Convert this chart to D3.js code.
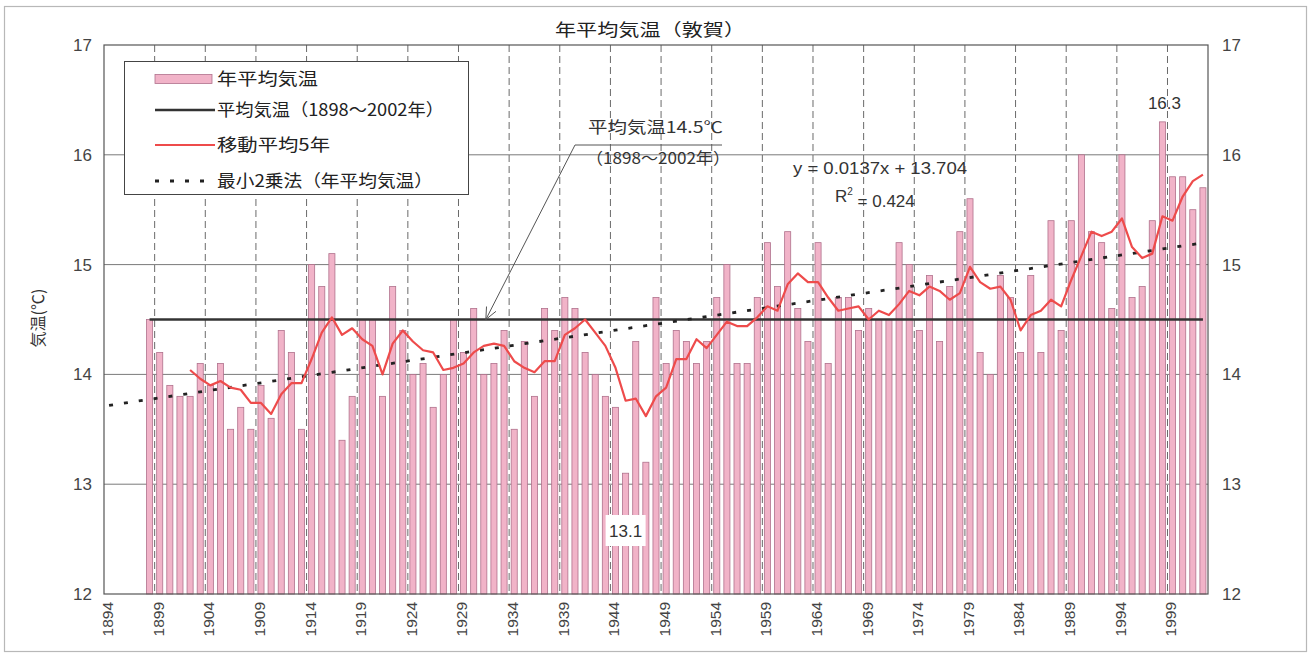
<!DOCTYPE html>
<html><head><meta charset="utf-8">
<script src="https://cdn.jsdelivr.net/npm/d3@7"></script>
<style>body{margin:0;background:#fff;} svg{display:block;}</style>
</head><body><svg id="c" width="1310" height="657"></svg>
<script>
// ---------- data ----------
const firstYear = 1898;
const temps = [
 14.5,14.2,13.9,13.8,13.8,14.1,13.9,14.1,13.5,13.7, // 1898-1907
 13.5,13.9,13.6,14.4,14.2,13.5,15.0,14.8,15.1,13.4, // 1908-1917
 13.8,14.5,14.5,13.8,14.8,14.4,14.0,14.1,13.7,14.0, // 1918-1927
 14.5,14.2,14.6,14.0,14.1,14.4,13.5,14.3,13.8,14.6, // 1928-1937
 14.4,14.7,14.6,14.2,14.0,13.8,13.7,13.1,14.3,13.2, // 1938-1947
 14.7,14.1,14.4,14.3,14.1,14.3,14.7,15.0,14.1,14.1, // 1948-1957
 14.7,15.2,14.8,15.3,14.6,14.3,15.2,14.1,14.7,14.7, // 1958-1967
 14.4,14.6,14.5,14.5,15.2,15.0,14.4,14.9,14.3,14.8, // 1968-1977
 15.3,15.6,14.2,14.0,14.9,14.7,14.2,14.9,14.2,15.4, // 1978-1987
 14.4,15.4,16.0,15.3,15.2,14.6,16.0,14.7,14.8,15.4, // 1988-1997
 16.3,15.8,15.8,15.5,15.7                           // 1998-2002
];
const years = temps.map((_, i) => firstYear + i);
const maFirstYear = 1902;
const movingAvg5 = [
 14.04,13.96,13.90,13.94,13.88,13.86,13.74,13.74,13.64,13.82, // 1902-1911
 13.92,13.92,14.14,14.38,14.52,14.36,14.42,14.32,14.26,14.00, // 1912-1921
 14.28,14.40,14.30,14.22,14.20,14.04,14.06,14.10,14.20,14.26, // 1922-1931
 14.28,14.26,14.12,14.06,14.02,14.12,14.12,14.36,14.42,14.50, // 1932-1941
 14.38,14.26,14.06,13.76,13.78,13.62,13.80,13.88,14.14,14.14, // 1942-1951
 14.32,14.24,14.36,14.48,14.44,14.44,14.52,14.62,14.58,14.82, // 1952-1961
 14.92,14.84,14.84,14.70,14.58,14.60,14.62,14.50,14.58,14.54, // 1962-1971
 14.64,14.76,14.72,14.80,14.76,14.68,14.74,14.98,14.84,14.78, // 1972-1981
 14.80,14.68,14.40,14.54,14.58,14.68,14.62,14.86,15.08,15.30, // 1982-1991
 15.26,15.30,15.42,15.16,15.06,15.10,15.44,15.40,15.62,15.76, // 1992-2001
 15.82                                                        // 2002
];
const maYears = movingAvg5.map((_, i) => maFirstYear + i);
const meanTemp = 14.5;
const meanYears = [1898, 2002];
const trendSlope = 0.0137, trendIntercept = 13.704, trendR2 = 0.424;
const trendYears = [1894, 2002];
const yTicks = [12, 13, 14, 15, 16, 17];
const xTickYears = [1894,1899,1904,1909,1914,1919,1924,1929,1934,1939,1944,1949,1954,1959,1964,1969,1974,1979,1984,1989,1994,1999];
const maxYear = 1998, maxVal = 16.3, minYear = 1945, minVal = 13.1;

// ---------- layout ----------
const FONT = "'Liberation Sans','Noto Sans CJK JP',sans-serif";
const JFONT = "'Noto Sans CJK JP','Liberation Sans',sans-serif";
const svg = d3.select('#c');
const P = {l: 104, r: 1208, t: 45, b: 594};
const x = d3.scaleLinear().domain([1894, 2003]).range([P.l, P.r]);
const cw = x(1895) - x(1894);
const cx = yr => x(yr) + cw / 2;
const y = d3.scaleLinear().domain([12, 17]).range([P.b, P.t]);

// outer frame
svg.append('rect').attr('x', 4.5).attr('y', 6.5).attr('width', 1302).attr('height', 645)
  .attr('fill', 'none').attr('stroke', '#b8b8b8').attr('stroke-width', 1.2);

// horizontal gridlines
svg.append('g').selectAll('line').data(yTicks.filter(d => d > 12 && d < 17)).join('line')
  .attr('x1', P.l).attr('x2', P.r).attr('y1', d => y(d)).attr('y2', d => y(d))
  .attr('stroke', '#7a7a7a').attr('stroke-width', 1);

// vertical dashed gridlines
svg.append('g').selectAll('line').data(xTickYears.filter(d => d > 1894)).join('line')
  .attr('x1', d => x(d)).attr('x2', d => x(d)).attr('y1', P.t).attr('y2', P.b)
  .attr('stroke', '#6a6a6a').attr('stroke-width', 1).attr('stroke-dasharray', '7,4');

// bars
const barW = cw * 0.6;
svg.append('g').selectAll('rect').data(temps).join('rect')
  .attr('x', (d, i) => cx(years[i]) - barW / 2)
  .attr('y', d => y(d))
  .attr('width', barW)
  .attr('height', d => y(12) - y(d))
  .attr('fill', '#f1b3c8').attr('stroke', '#b0718c').attr('stroke-width', 0.8);

// plot border
svg.append('rect').attr('x', P.l).attr('y', P.t).attr('width', P.r - P.l).attr('height', P.b - P.t)
  .attr('fill', 'none').attr('stroke', '#555').attr('stroke-width', 1.2);

// mean line
svg.append('line')
  .attr('x1', cx(meanYears[0])).attr('x2', cx(meanYears[1]))
  .attr('y1', y(meanTemp)).attr('y2', y(meanTemp))
  .attr('stroke', '#333').attr('stroke-width', 2.6);

// trend line (least squares, x = category index with 1894 = 1)
const trendVal = yr => trendIntercept + trendSlope * (yr - 1893);
svg.append('line')
  .attr('x1', cx(trendYears[0])).attr('x2', cx(trendYears[1]))
  .attr('y1', y(trendVal(trendYears[0]))).attr('y2', y(trendVal(trendYears[1])))
  .attr('stroke', '#222').attr('stroke-width', 2.8).attr('stroke-dasharray', '4,11');

// moving average
const line = d3.line().x((d, i) => cx(maYears[i])).y(d => y(d));
svg.append('path').datum(movingAvg5).attr('d', line)
  .attr('fill', 'none').attr('stroke', '#ee4b4b').attr('stroke-width', 2.2).attr('stroke-linejoin', 'round');

// axes
const yAxL = svg.append('g').attr('transform', `translate(${P.l},0)`)
  .call(d3.axisLeft(y).tickValues(yTicks).tickSize(0).tickPadding(12).tickFormat(d3.format('d')));
const yAxR = svg.append('g').attr('transform', `translate(${P.r},0)`)
  .call(d3.axisRight(y).tickValues(yTicks).tickSize(0).tickPadding(14).tickFormat(d3.format('d')));
[yAxL, yAxR].forEach(g => {
  g.select('.domain').remove();
  g.selectAll('text').attr('font-family', FONT).attr('font-size', 17).attr('fill', '#444');
});
const xAx = svg.append('g').attr('transform', `translate(0,${P.b})`)
  .call(d3.axisBottom(x).tickValues(xTickYears).tickSize(0).tickFormat(d3.format('d')));
xAx.select('.domain').remove();
xAx.selectAll('text')
  .attr('transform', 'rotate(-90)')
  .attr('x', -8).attr('y', 3).attr('dy', '0.35em')
  .style('text-anchor', 'end')
  .attr('font-family', FONT).attr('font-size', 15.5).attr('fill', '#444');

// titles
svg.append('text').attr('x', 650).attr('y', 36).attr('text-anchor', 'middle')
  .attr('font-family', JFONT).attr('font-size', 17).attr('fill', '#222')
  .attr('textLength', 190).attr('lengthAdjust', 'spacingAndGlyphs')
  .text('年平均気温（敦賀）');
svg.append('text').attr('transform', 'translate(44,318) rotate(-90)').attr('text-anchor', 'middle')
  .attr('font-family', JFONT).attr('font-size', 16).attr('fill', '#333')
  .text('気温(℃)');

// legend
const lg = svg.append('g');
lg.append('rect').attr('x', 124.5).attr('y', 61.5).attr('width', 344).attr('height', 133)
  .attr('fill', '#fff').attr('stroke', '#444').attr('stroke-width', 1);
const legItems = [
  {label: '年平均気温', w: 101, type: 'bar'},
  {label: '平均気温（1898～2002年）', w: 227, type: 'mean'},
  {label: '移動平均5年', w: 113, type: 'ma'},
  {label: '最小2乗法（年平均気温）', w: 216, type: 'trend'}
];
const legY = [79, 110, 145, 181];
legItems.forEach((it, i) => {
  const yy = legY[i];
  if (it.type === 'bar') {
    lg.append('rect').attr('x', 155).attr('y', yy - 4.5).attr('width', 57).attr('height', 9)
      .attr('fill', '#f1b3c8').attr('stroke', '#b0718c').attr('stroke-width', 0.8);
  } else if (it.type === 'mean') {
    lg.append('line').attr('x1', 155).attr('x2', 215).attr('y1', yy).attr('y2', yy)
      .attr('stroke', '#333').attr('stroke-width', 2.4);
  } else if (it.type === 'ma') {
    lg.append('line').attr('x1', 155).attr('x2', 215).attr('y1', yy).attr('y2', yy)
      .attr('stroke', '#ee4b4b').attr('stroke-width', 2.2);
  } else {
    lg.append('line').attr('x1', 155).attr('x2', 215).attr('y1', yy).attr('y2', yy)
      .attr('stroke', '#222').attr('stroke-width', 2.8).attr('stroke-dasharray', '4,11');
  }
  lg.append('text').attr('x', 217).attr('y', yy).attr('dy', '0.36em')
    .attr('font-family', JFONT).attr('font-size', 17).attr('fill', '#222')
    .attr('textLength', it.w).attr('lengthAdjust', 'spacingAndGlyphs')
    .text(it.label);
});

// annotation for mean
const tip = [x(1931.7), y(meanTemp)];
const elbow = [575, 145];
svg.append('polyline')
  .attr('points', [[722, 145], elbow, tip].map(p => p.join(',')).join(' '))
  .attr('fill', 'none').attr('stroke', '#555').attr('stroke-width', 1);
{
  const dx = tip[0] - elbow[0], dy = tip[1] - elbow[1];
  const ang = Math.atan2(dy, dx);
  const L = 13, a = 0.42;
  const p1 = [tip[0] - L * Math.cos(ang - a), tip[1] - L * Math.sin(ang - a)];
  const p2 = [tip[0] - L * Math.cos(ang + a), tip[1] - L * Math.sin(ang + a)];
  svg.append('polyline').attr('points', [p1, tip, p2].map(p => p.join(',')).join(' '))
    .attr('fill', 'none').attr('stroke', '#555').attr('stroke-width', 1);
}
svg.append('text').attr('x', 588).attr('y', 127).attr('dy', '0.36em')
  .attr('font-family', JFONT).attr('font-size', 16).attr('fill', '#333')
  .attr('textLength', 135).attr('lengthAdjust', 'spacingAndGlyphs')
  .text('平均気温14.5℃');
svg.append('text').attr('x', 586).attr('y', 158).attr('dy', '0.36em')
  .attr('font-family', JFONT).attr('font-size', 16).attr('fill', '#333')
  .attr('textLength', 144).attr('lengthAdjust', 'spacingAndGlyphs')
  .text('（1898～2002年）');

// regression equation
svg.append('text').attr('x', 793).attr('y', 168).attr('dy', '0.36em')
  .attr('font-family', FONT).attr('font-size', 16).attr('fill', '#333')
  .attr('textLength', 174).attr('lengthAdjust', 'spacingAndGlyphs')
  .text(`y = ${trendSlope}x + ${trendIntercept}`);
const r2 = svg.append('text').attr('x', 835).attr('y', 196).attr('dy', '0.36em')
  .attr('font-family', FONT).attr('font-size', 17).attr('fill', '#333');
r2.append('tspan').text('R');
r2.append('tspan').attr('font-size', 10).attr('dy', '-0.7em').text('2');
r2.append('tspan').attr('dy', '0.7em').text(` = ${trendR2}`);

// max / min labels
svg.append('text').attr('x', cx(maxYear) + 2).attr('y', y(maxVal) - 13).attr('text-anchor', 'middle')
  .attr('font-family', FONT).attr('font-size', 17).attr('fill', '#333').text(maxVal.toFixed(1));
svg.append('rect').attr('x', cx(minYear) - 20).attr('y', 515).attr('width', 40).attr('height', 31)
  .attr('fill', '#fff');
svg.append('text').attr('x', cx(minYear)).attr('y', 531).attr('dy', '0.36em').attr('text-anchor', 'middle')
  .attr('font-family', FONT).attr('font-size', 17).attr('fill', '#333').text(minVal.toFixed(1));
</script>
</body></html>
